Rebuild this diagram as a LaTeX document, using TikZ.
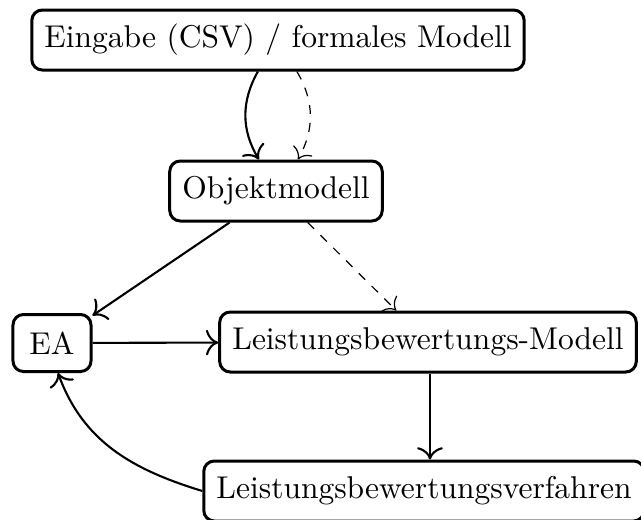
\documentclass[tikz,border=0pt]{standalone}
\usetikzlibrary{arrows.meta}
\begin{document}
\begin{tikzpicture}[x=0.3333pt,y=-0.3333pt,
  font=\fontsize{10.5pt}{12.6pt}\selectfont,
  box/.style={draw,line width=1pt,rounded corners=3.5pt,inner sep=4.2pt,minimum height=20pt},
  solidarrow/.style={-{To[scale=1.3]},line width=0.7pt},
  dasharrow/.style={-{To[scale=1.4]},dashed,line width=0.4pt}]
\useasboundingbox (0,0) rectangle (641,520);
\node[box] (in) at (278,40) {Eingabe (CSV) / formales Modell};
\node[box] (om) at (276,191) {Objektmodell};
\node[box,minimum height=19pt,minimum width=26pt] (ea) at (52,343) {EA};
\node[box] (lm) at (428,342) {Leistungsbewertungs-Modell};
\node[box] (lv) at (424,491) {Leistungsbewertungsverfahren};
\draw[solidarrow] ([xshift=-6.7pt]in.south) to[bend right=30] ([xshift=-5.7pt]om.north);
\draw[dasharrow] ([xshift=6.3pt]in.south) to[bend left=30] ([xshift=7.3pt]om.north);
\draw[solidarrow] (om) -- (ea);
\draw[dasharrow] (om) -- (lm);
\draw[solidarrow] (ea) -- (lm);
\draw[solidarrow] (lm.south -| 430,0) -- (lv.north -| 430,0);
\draw[solidarrow] (lv.west) to[out=163,in=-70] ([xshift=2pt]ea.south);
\end{tikzpicture}
\end{document}
